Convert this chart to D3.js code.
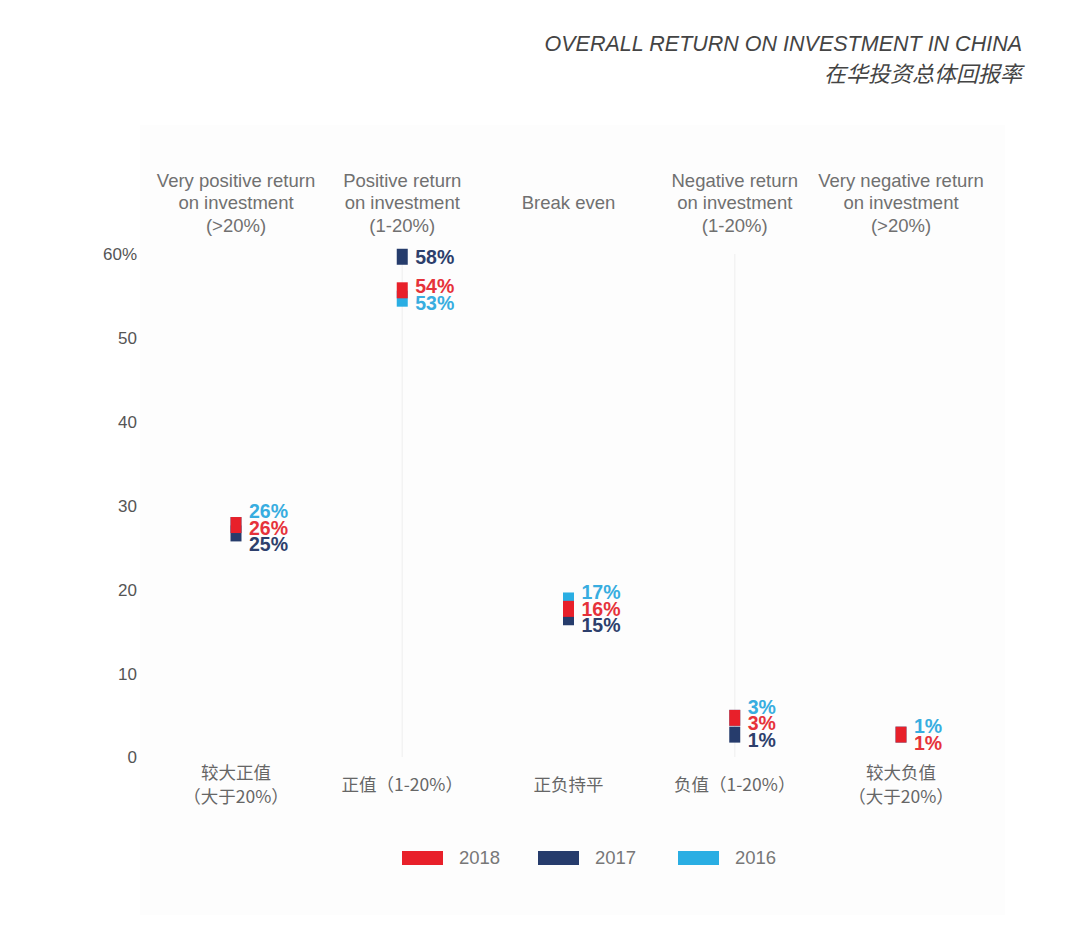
<!DOCTYPE html>
<html><head><meta charset="utf-8">
<script src="https://cdn.jsdelivr.net/npm/d3@7"></script>
<style>body{margin:0;background:#fff;} svg{display:block;}</style>
</head><body><svg id="c" width="1080" height="952"></svg>
<script>
// ---- data ----
const categoryKeys = ["vpos", "pos", "even", "neg", "vneg"];
const categoriesEn = [
  ["Very positive return", "on investment", "(>20%)"],
  ["Positive return", "on investment", "(1-20%)"],
  ["Break even"],
  ["Negative return", "on investment", "(1-20%)"],
  ["Very negative return", "on investment", "(>20%)"]
];
const categoriesZh = [
  ["较大正值", "（大于20%）"],
  ["正值（1-20%）"],
  ["正负持平"],
  ["负值（1-20%）"],
  ["较大负值", "（大于20%）"]
];
const years = ["2018", "2017", "2016"];
const values2018 = [26, 54, 16, 3, 1];
const values2017 = [25, 58, 15, 1, null];
const values2016 = [26, 53, 17, 3, 1];
const yTicks = [0, 10, 20, 30, 40, 50, 60];
const titleEn = "OVERALL RETURN ON INVESTMENT IN CHINA";
const titleZh = "在华投资总体回报率";

// ---- styles ----
const colors = { "2018": "#e8202a", "2017": "#263c6c", "2016": "#2aaee3" };
const textColors = { "2018": "#e6323a", "2017": "#2d3f6c", "2016": "#38ade0" };
const seriesValues = { "2018": values2018, "2017": values2017, "2016": values2016 };
const drawOrder = ["2017", "2016", "2018"];
const tieOrder = ["2016", "2018", "2017"];

const svg = d3.select("#c");
const font = "'Liberation Sans', Arial, Helvetica, sans-serif";
const cjk = "'Noto Sans CJK SC', 'Liberation Sans', sans-serif";

svg.append("rect").attr("x", 140).attr("y", 125).attr("width", 865).attr("height", 790).attr("fill", "#fdfdfd");

const y = d3.scaleLinear().domain([0, 60]).range([757, 254]);
const x = d3.scalePoint().domain(categoryKeys).range([236, 901]);

// Title
svg.append("text").attr("x", 1022).attr("y", 51).attr("text-anchor", "end")
  .attr("font-family", font).attr("font-style", "italic").attr("font-size", 21.5)
  .attr("fill", "#444").text(titleEn);
svg.append("text").attr("x", 1022).attr("y", 82).attr("text-anchor", "end")
  .attr("font-family", cjk).attr("font-style", "italic").attr("font-size", 22)
  .attr("fill", "#444").text(titleZh);

// faint guide lines
[1, 3].forEach(i => {
  svg.append("line").attr("x1", x(categoryKeys[i])).attr("x2", x(categoryKeys[i]))
    .attr("y1", y(60)).attr("y2", y(0)).attr("stroke", "#f3f3f3").attr("stroke-width", 1.5);
});

// Y axis
const yAxis = d3.axisLeft(y).tickValues(yTicks).tickSize(0).tickPadding(0)
  .tickFormat(d => d === 60 ? "60%" : d);
const gy = svg.append("g").attr("transform", "translate(137,0)").call(yAxis);
gy.select(".domain").remove();
gy.selectAll("text").attr("font-family", font).attr("font-size", 17).attr("fill", "#555")
  .attr("dy", "0.35em");

// headers
categoryKeys.forEach((k, i) => {
  const lines = categoriesEn[i];
  const t = svg.append("text").attr("text-anchor", "middle").attr("font-family", font)
    .attr("font-size", 18.5).attr("fill", "#707070");
  lines.forEach((ln, j) => {
    t.append("tspan").attr("x", x(k)).attr("y", 209 + (j - (lines.length - 1) / 2) * 22.5).text(ln);
  });
  const zl = categoriesZh[i];
  const tz = svg.append("text").attr("text-anchor", "middle").attr("font-family", cjk)
    .attr("font-size", 17.5).attr("fill", "#666");
  zl.forEach((ln, j) => {
    tz.append("tspan").attr("x", x(k)).attr("y", 791 + (j - (zl.length - 1) / 2) * 24).text(ln);
  });
});

// markers
const rectH = 16, rectW = 11, off = 6;
drawOrder.forEach(yr => {
  seriesValues[yr].forEach((v, i) => {
    if (v == null) return;
    svg.append("rect").attr("x", x(categoryKeys[i]) - rectW / 2).attr("y", y(v) - off - rectH)
      .attr("width", rectW).attr("height", rectH).attr("fill", colors[yr]);
  });
});

// labels with collision avoidance
categoryKeys.forEach((k, i) => {
  let items = years.filter(yr => seriesValues[yr][i] != null)
    .map(yr => ({ yr, v: seriesValues[yr][i], pos: y(seriesValues[yr][i]) - off - rectH / 2 }));
  items.sort((a, b) => (b.v - a.v) || (tieOrder.indexOf(a.yr) - tieOrder.indexOf(b.yr)));
  const gap = 16.5;
  for (let it = 0; it < 100; it++) {
    for (let j = 0; j < items.length - 1; j++) {
      const d = items[j + 1].pos - items[j].pos;
      if (d < gap) {
        const p = (gap - d) / 2;
        items[j].pos -= p; items[j + 1].pos += p;
      }
    }
  }
  items.forEach(o => {
    svg.append("text").attr("x", x(k) + 13).attr("y", o.pos).attr("dy", "0.36em")
      .attr("font-family", font).attr("font-weight", "bold").attr("font-size", 19.5)
      .attr("fill", textColors[o.yr]).text(o.v + "%");
  });
});

// legend
const legendX = { "2018": 402, "2017": 538, "2016": 678 };
years.forEach(yr => {
  svg.append("rect").attr("x", legendX[yr]).attr("y", 851).attr("width", 41).attr("height", 14)
    .attr("fill", colors[yr]);
  svg.append("text").attr("x", legendX[yr] + 57).attr("y", 858).attr("dy", "0.35em")
    .attr("font-family", font).attr("font-size", 18.5).attr("fill", "#777").text(yr);
});
</script>
</body></html>
